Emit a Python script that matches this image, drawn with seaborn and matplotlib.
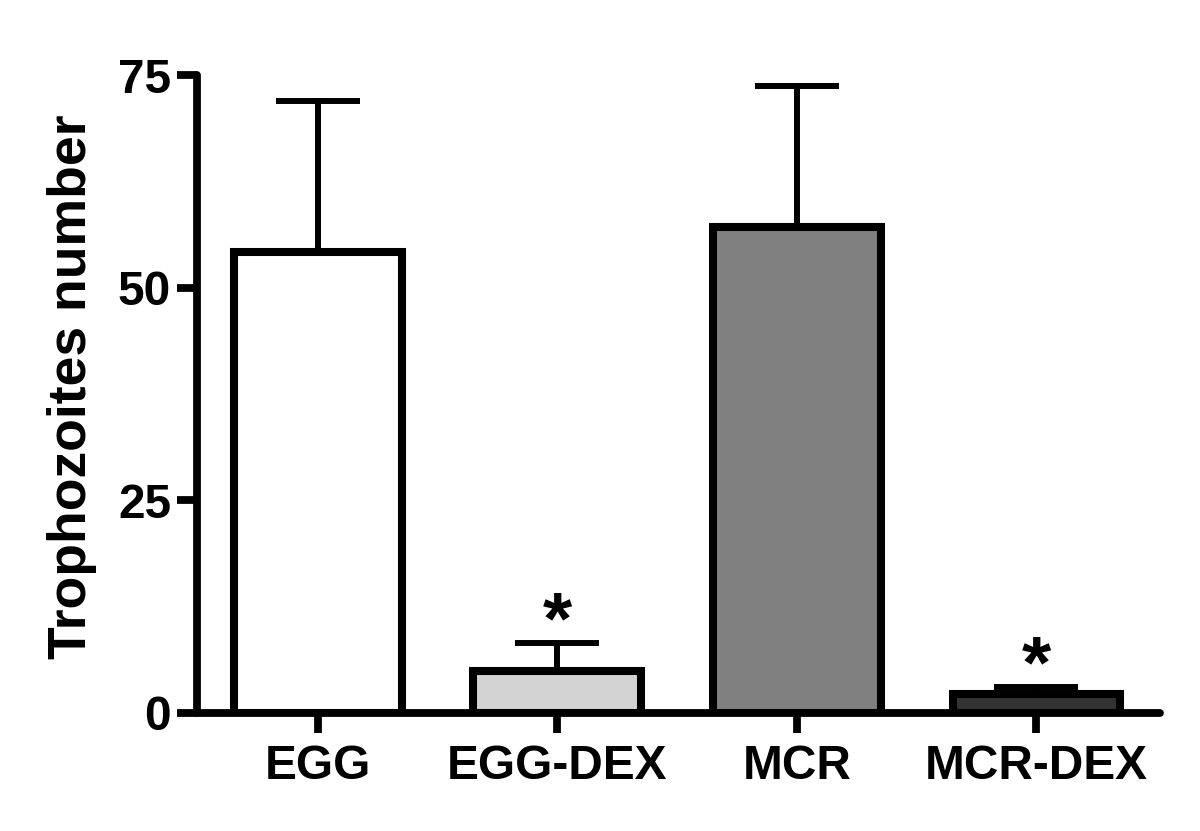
import pandas as pd
import matplotlib
matplotlib.use("Agg")
import matplotlib.pyplot as plt
import numpy as np
import seaborn as sns

# data
groups = ['EGG', 'EGG-DEX', 'MCR', 'MCR-DEX']
means = [54.2, 4.9, 57.1, 2.2]
errors = [17.7, 3.3, 16.6, 0.9]
colors = ['#ffffff', '#d3d3d3', '#808080', '#333333']
signif = ['', '*', '', '*']

df = pd.DataFrame({'group': groups, 'mean': means})

sns.set_style("ticks", {'axes.edgecolor': 'black', 'text.color': 'black',
                        'xtick.color': 'black', 'ytick.color': 'black',
                        'axes.labelcolor': 'black'})
plt.rcParams['font.family'] = ['Liberation Sans', 'DejaVu Sans']
plt.rcParams['font.weight'] = 'bold'

fig = plt.figure(figsize=(12, 8.31), dpi=100)
ax = fig.add_axes([0.164, 0.142, 0.8027, 0.7677])

sns.barplot(data=df, x='group', y='mean', hue='group', palette=colors,
            errorbar=None, width=0.7, edgecolor='black', linewidth=5.8,
            legend=False, saturation=1, ax=ax)

# one-sided (upper) error bars
x = np.arange(len(groups))
ax.errorbar(x, means, yerr=[np.zeros(len(errors)), errors], fmt='none',
            ecolor='black', elinewidth=4.3, capsize=30, capthick=4.3, zorder=1)

# significance stars
for i, s in enumerate(signif):
    if s:
        ax.annotate(s, (x[i], means[i] + errors[i]), xytext=(0, -11),
                    textcoords='offset points', ha='center', va='bottom',
                    fontsize=54, fontweight='bold', color='black')

ax.set_xlim(-0.505, 3.516)
ax.set_ylim(0, 75)
ax.set_yticks([0, 25, 50, 75])
ax.set_xlabel('')
ax.set_ylabel('Trophozoites number', fontsize=38.5, fontweight='bold')
ax.yaxis.set_label_coords(-0.104, 0.511)

for side in ['top', 'right']:
    ax.spines[side].set_visible(False)
for side in ['left', 'bottom']:
    ax.spines[side].set_linewidth(5.6)
    ax.spines[side].set_capstyle('round')

ax.tick_params(axis='both', length=14.4, width=5.6, labelsize=34.4)
ax.tick_params(axis='y', pad=4)
ax.tick_params(axis='x', pad=8)
for lab in ax.get_xticklabels() + ax.get_yticklabels():
    lab.set_fontweight('bold')

fig.savefig('out.png', dpi=100)
